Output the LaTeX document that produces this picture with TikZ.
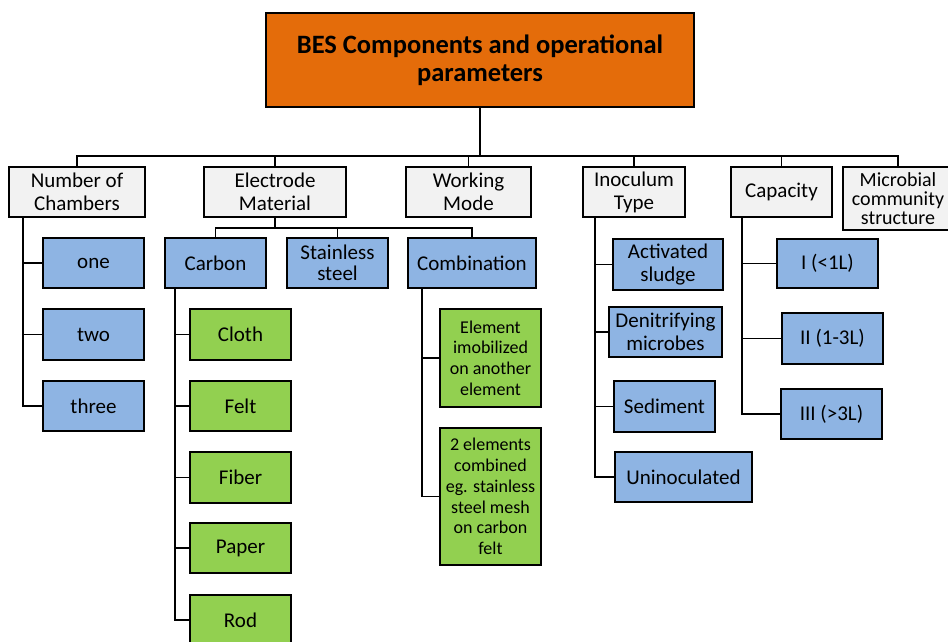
\documentclass[tikz,border=0pt]{standalone}
\usepackage{fontspec}
\setmainfont{Carlito}
\definecolor{ttl}{HTML}{E46C0A}
\definecolor{lgray}{HTML}{F2F2F2}
\definecolor{lblue}{HTML}{8EB4E3}
\definecolor{lgreen}{HTML}{92D050}
\tikzset{
  bx/.style={draw=black, line width=1.6pt, rectangle, inner sep=0pt, align=center, font=\fontsize{21}{23}\selectfont},
  topbox/.style={bx, fill=ttl, font=\fontsize{26.5}{28}\selectfont\bfseries},
  catbox/.style={bx, fill=lgray},
  subbox/.style={bx, fill=lblue},
  leafbox/.style={bx, fill=lgreen},
  wh/.style 2 args={minimum width=#1pt, minimum height=#2pt},
  conn/.style={draw=black, line width=1.5pt},
}
\begin{document}
\begin{tikzpicture}[x=1pt, y=-1pt]
\useasboundingbox (0,0) rectangle (948,641);
\clip (0,0) rectangle (948,641);
\fill[white] (0,0) rectangle (948,641);
% title
\node[topbox, wh={428}{94}] (title) at (480,60) {BES Components and operational\\parameters};
% level 1
\node[catbox, wh={136}{50}] (nc) at (77,192) {Number of\\Chambers};
\node[catbox, wh={142}{50}] (em) at (275,192) {Electrode\\Material};
\node[catbox, wh={125}{50}] (wm) at (468.5,192) {Working\\Mode};
\node[catbox, wh={102}{50}] (it) at (634,192) {Inoculum\\Type};
\node[catbox, wh={101}{50}] (cap) at (781.5,192) {Capacity};
\node[catbox, wh={110}{63}, font=\fontsize{20}{19}\selectfont] (mic) at (898,198.5) {Microbial\\community\\structure};
% chambers
\node[subbox, wh={101}{50}] (one) at (93.5,263) {one};
\node[subbox, wh={101}{51}] (two) at (93.5,334.5) {two};
\node[subbox, wh={101}{50}] (three) at (93.5,406) {three};
% electrode
\node[subbox, wh={101}{50}] (carbon) at (215.5,263) {Carbon};
\node[subbox, wh={101}{50}, font=\fontsize{21}{21.5}\selectfont] (ss) at (337.5,263) {Stainless\\steel};
\node[subbox, wh={128}{50}] (comb) at (472,263) {Combination};
% carbon children
\node[leafbox, wh={101}{51}] (cloth) at (240.5,334.5) {Cloth};
\node[leafbox, wh={101}{50}] (felt) at (240.5,406) {Felt};
\node[leafbox, wh={101}{51}] (fiber) at (240.5,477.5) {Fiber};
\node[leafbox, wh={101}{50}] (paper) at (240.5,548) {Paper};
\node[leafbox, wh={101}{50}] (rod) at (240.5,620) {Rod};
% combination children
\node[leafbox, wh={101}{98}, font=\fontsize{18}{20.7}\selectfont] (e1) at (490.5,358) {Element\\imobilized\\on another\\element};
\node[leafbox, wh={101}{137}, font=\fontsize{18}{20.7}\selectfont] (e2) at (490.5,496.5) {2 elements\\combined\\eg. stainless\\steel mesh\\on carbon\\felt};
% inoculum
\node[subbox, wh={110}{51}] (as) at (668,264.5) {Activated\\sludge};
\node[subbox, wh={113}{50}] (dn) at (665.5,332) {Denitrifying\\microbes};
\node[subbox, wh={101}{51}] (sed) at (664.5,406.5) {Sediment};
\node[subbox, wh={137}{50}] (un) at (683.5,477) {Uninoculated};
% capacity
\node[subbox, wh={101}{49}] (c1) at (827.5,263.5) {I (<1L)};
\node[subbox, wh={101}{51}] (c2) at (832.5,338.5) {II (1-3L)};
\node[subbox, wh={101}{50}] (c3) at (831.5,414) {III (>3L)};
% connectors
\coordinate (bus) at (480,156);
\draw[conn, line width=2pt] (title.south) -- (bus);
\foreach \n in {nc,em,wm,it,cap,mic} \draw[conn] (bus) -| (\n.north);
\coordinate (ncv) at (23,217);
\foreach \n in {one,two,three} \draw[conn] (ncv) |- (\n.west);
\coordinate (emb) at (275,228);
\draw[conn] (em.south) -- (emb);
\foreach \n in {carbon,ss,comb} \draw[conn] (emb) -| (\n.north);
\coordinate (cv) at (175,288);
\foreach \n in {cloth,felt,fiber,paper,rod} \draw[conn] (cv) |- (\n.west);
\draw[conn, line width=2.2pt] (cv) -- (cv |- rod.west);
\coordinate (cmv) at (422,288);
\foreach \n in {e1,e2} \draw[conn] (cmv) |- (\n.west);
\coordinate (itv) at (595,217);
\foreach \n in {as,dn,sed,un} \draw[conn] (itv) |- (\n.west);
\coordinate (capv) at (742,217);
\foreach \n in {c1,c2,c3} \draw[conn] (capv) |- (\n.west);
\end{tikzpicture}
\end{document}
